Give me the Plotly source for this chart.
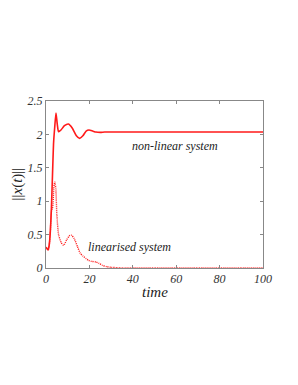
import plotly.graph_objects as go

# Non-linear system response
t_nl = [0, 0.5, 1, 1.5, 2, 2.5, 3, 3.5, 4, 4.6, 5.2, 5.8, 7, 8.5, 10.3, 12, 14, 15.5,
        17, 18.5, 19.8, 21.5, 23, 25, 27, 30, 40, 50, 60, 70, 80, 90, 100]
x_nl = [0.31, 0.29, 0.27, 0.35, 0.55, 0.9, 1.4, 1.88, 2.1, 2.32, 2.15, 2.04, 2.07, 2.13,
        2.155, 2.1, 1.98, 1.94, 1.98, 2.05, 2.065, 2.05, 2.035, 2.03, 2.035, 2.035,
        2.035, 2.035, 2.035, 2.035, 2.035, 2.035, 2.035]

# Linearised system response
t_lin = [0, 0.5, 1, 1.5, 2, 2.5, 3, 3.3, 3.6, 4.0, 4.5, 5, 5.8, 7, 8.1, 9.5, 11, 11.8,
         13, 14.5, 15.8, 17, 18.5, 19.6, 21, 23, 24.5, 26, 28, 30, 33, 36, 40, 50, 60,
         70, 80, 90, 100]
x_lin = [0.31, 0.29, 0.27, 0.35, 0.55, 0.85, 0.9, 1.0, 1.2, 1.29, 1.2, 0.8, 0.5, 0.38,
         0.34, 0.42, 0.49, 0.49, 0.44, 0.32, 0.22, 0.18, 0.14, 0.115, 0.1, 0.09, 0.07,
         0.04, 0.02, 0.01, 0.005, 0.0, 0.0, 0.0, 0.0, 0.0, 0.0, 0.0, 0.0]

x_ticks = [0, 20, 40, 60, 80, 100]
y_ticks = [0, 0.5, 1, 1.5, 2, 2.5]
y_tick_labels = ["0", "0.5", "1", "1.5", "2", "2.5"]

serif = "Liberation Serif"
red = "#ff1a1a"

fig = go.Figure()
fig.add_trace(go.Scatter(x=t_lin, y=x_lin, mode="lines",
                         line=dict(color=red, width=1.4, dash="1px,1px", shape="spline", smoothing=0.6),
                         showlegend=False))
fig.add_trace(go.Scatter(x=t_nl, y=x_nl, mode="lines",
                         line=dict(color=red, width=1.6, shape="spline", smoothing=0.6),
                         showlegend=False))

axis_common = dict(showline=True, linecolor="#888888", linewidth=1, mirror="ticks",
                   ticks="inside", ticklen=3, tickcolor="#888888", showgrid=False,
                   zeroline=False, automargin=False,
                   tickfont=dict(family=serif, size=12, color="#333333", style="italic"))

fig.update_xaxes(range=[0, 100], tickvals=x_ticks, **axis_common)
fig.update_yaxes(range=[0, 2.5], tickvals=y_ticks, ticktext=y_tick_labels, **axis_common)

# axis titles
fig.add_annotation(xref="paper", yref="paper", x=0.5, y=0, yshift=-14, yanchor="top",
                   xanchor="center", text="time", showarrow=False,
                   font=dict(family=serif, size=15, color="#222222", style="italic"))
fig.add_annotation(xref="paper", yref="paper", x=0, y=0.5, xshift=-29, xanchor="center",
                   yanchor="middle", textangle=-90,
                   text="||<i>x</i>(<i>t</i>)||", showarrow=False,
                   font=dict(family=serif, size=15, color="#222222"))

fig.add_annotation(x=59.5, y=1.83, text="non-linear system", showarrow=False,
                   font=dict(family=serif, size=12, color="#222222", style="italic"))
fig.add_annotation(x=38.5, y=0.32, text="linearised system", showarrow=False,
                   font=dict(family=serif, size=12, color="#222222", style="italic"))

fig.update_layout(width=290, height=377, paper_bgcolor="white", plot_bgcolor="white",
                  margin=dict(l=38, r=35, t=93, b=117))

fig.write_html("out.html")
